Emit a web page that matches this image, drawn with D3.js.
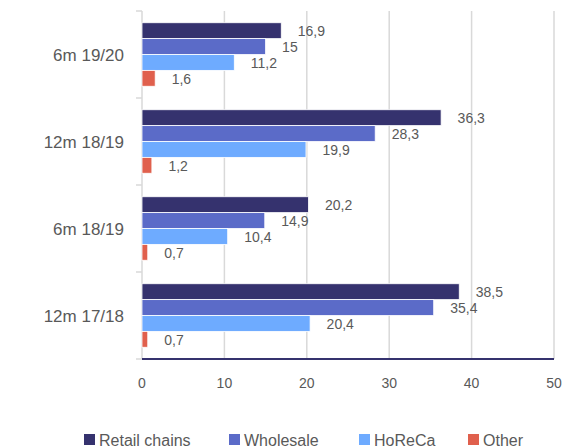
<!DOCTYPE html>
<html><head><meta charset="utf-8">
<script src="https://cdn.jsdelivr.net/npm/d3@7"></script>
<style>html,body{margin:0;padding:0;background:#fff;}svg{display:block;}</style>
</head><body>
<svg id="chart" width="562" height="447"></svg>
<script>
const categories = ["6m 19/20", "12m 18/19", "6m 18/19", "12m 17/18"];
const seriesNames = ["Retail chains", "Wholesale", "HoReCa", "Other"];
const retail = [16.9, 36.3, 20.2, 38.5];
const wholesale = [15, 28.3, 14.9, 35.4];
const horeca = [11.2, 19.9, 10.4, 20.4];
const other = [1.6, 1.2, 0.7, 0.7];
const xTicks = [0, 10, 20, 30, 40, 50];
const colors = ["#35326E", "#5B6BC8", "#6EABFF", "#E0604D"];

const seriesValues = [retail, wholesale, horeca, other];
const fmt = v => String(v).replace(".", ",");
const font = "'Liberation Sans', Arial, sans-serif";
const textColor = "#595959";

const svg = d3.select("#chart");
const x = d3.scaleLinear().domain([0, 50]).range([142, 554]);
const y = d3.scaleBand().domain(categories).range([11, 359]).paddingInner(0.27).paddingOuter(0.135);
const yOuter = d3.scaleBand().domain(categories).range([11, 359]);
const ySub = d3.scaleBand().domain(seriesNames).range([0, y.bandwidth()]);

// gridlines
svg.append("g").selectAll("line").data(xTicks.slice(1)).join("line")
  .attr("x1", d => x(d)).attr("x2", d => x(d))
  .attr("y1", 11).attr("y2", 359)
  .attr("stroke", "#d9d9d9").attr("stroke-width", 1.5);

// category axis line and ticks
svg.append("line").attr("x1", x(0)).attr("x2", x(0)).attr("y1", 11).attr("y2", 359)
  .attr("stroke", "#d9d9d9").attr("stroke-width", 1.5);
const catTicks = categories.map(c => yOuter(c)).concat([359]);
svg.append("g").selectAll("line").data(catTicks).join("line")
  .attr("x1", x(0) - 6).attr("x2", x(0)).attr("y1", d => d).attr("y2", d => d)
  .attr("stroke", "#d9d9d9").attr("stroke-width", 1.5);

// bars
const groups = svg.append("g").selectAll("g").data(categories).join("g")
  .attr("transform", c => `translate(0,${y(c)})`);
seriesNames.forEach((s, si) => {
  groups.append("rect")
    .attr("x", x(0))
    .attr("y", ySub(s))
    .attr("width", (c, ci) => x(seriesValues[si][ci]) - x(0))
    .attr("height", ySub.bandwidth())
    .attr("fill", colors[si])
    .attr("stroke", "#ffffff").attr("stroke-width", 0.8);
  groups.append("text")
    .attr("x", (c, ci) => x(seriesValues[si][ci]) + 16.5)
    .attr("y", ySub(s) + ySub.bandwidth() / 2 + 5.5)
    .attr("font-family", font).attr("font-size", 14).attr("fill", textColor)
    .text((c, ci) => fmt(seriesValues[si][ci]));
});

// bottom axis line
svg.append("line").attr("x1", x(0)).attr("x2", x(50)).attr("y1", 359).attr("y2", 359)
  .attr("stroke", "#35326E").attr("stroke-width", 2.2);

// x tick labels
svg.append("g").selectAll("text").data(xTicks).join("text")
  .attr("x", d => x(d)).attr("y", 388)
  .attr("text-anchor", "middle")
  .attr("font-family", font).attr("font-size", 14).attr("fill", textColor)
  .text(d => d);

// category labels
svg.append("g").selectAll("text").data(categories).join("text")
  .attr("x", 124).attr("y", c => yOuter(c) + yOuter.bandwidth() / 2 + 6)
  .attr("text-anchor", "end")
  .attr("font-family", font).attr("font-size", 17).attr("fill", textColor)
  .text(c => c);

// legend
const legendX = [84, 229, 359, 468];
const lg = svg.append("g").selectAll("g").data(seriesNames).join("g")
  .attr("transform", (d, i) => `translate(${legendX[i]},434)`);
lg.append("rect").attr("width", 11).attr("height", 11).attr("fill", (d, i) => colors[i]);
lg.append("text").attr("x", 15).attr("y", 11.5)
  .attr("font-family", font).attr("font-size", 16).attr("fill", textColor)
  .text(d => d);
</script>
</body></html>
